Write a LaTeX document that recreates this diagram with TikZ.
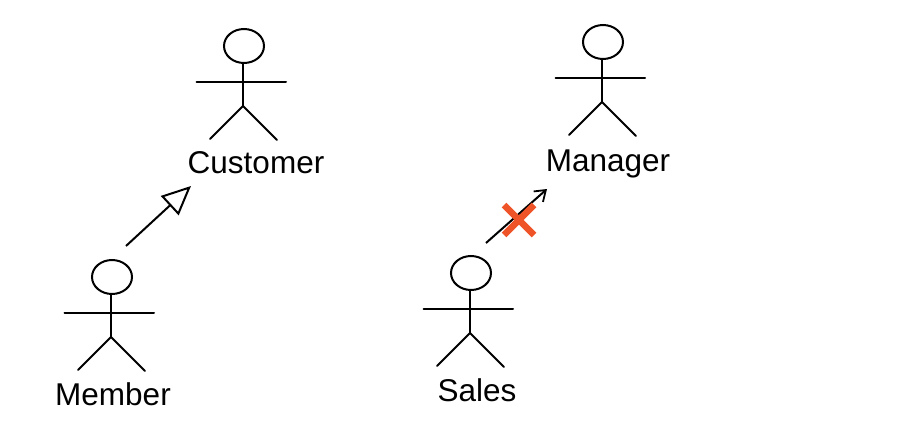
\documentclass[tikz,border=0pt]{standalone}
\usepackage{fontspec}
\setmainfont{Liberation Sans}
\usepackage{tikz}
\usetikzlibrary{arrows.meta,positioning}
\definecolor{crossred}{HTML}{EE5428}
\begin{document}
\begin{tikzpicture}[
  x=1pt,
  y=-1pt,
  every node/.style={font=\fontsize{31.5}{36}\selectfont, inner sep=0pt},
  limb/.style={line width=2pt, line cap=round},
  actor/.pic={
    \draw[limb] (0,0) ellipse (20 and 17);
    \draw[limb] (-1,17) -- (-1,60);
    \draw[limb] (-47.5,36) -- (42,36);
    \draw[limb] (-34,93) -- (-1,60) -- (33,94);
  },
  inherit/.style={-{Triangle[open, length=29pt, width=26pt, line width=2pt]}, line width=2pt},
  assoc/.style={-{Straight Barb[length=10pt, width=14pt, line width=1.8pt]}, line width=2pt},
  cross/.style={line width=6.5pt, color=crossred}
]
\useasboundingbox (0,0) rectangle (902,444);
\pic at (244,46) {actor};
\pic at (112,277) {actor};
\pic at (603,42) {actor};
\pic at (471,273) {actor};

\node (customer) at (256,163) {Customer};
\node (member) at (113,394) {Member};
\node (manager) at (608,164) {Manager};
\node (sales) at (477,390) {Sales};

\coordinate (genstart) at (126,246);
\coordinate (genend) at (191,186);
\coordinate (assocstart) at (486,243);
\coordinate (assocend) at (547,189);
\draw[inherit] (genstart) -- (genend);
\draw[assoc] (assocstart) -- (assocend);

\coordinate (crossa) at (504,205);
\coordinate (crossb) at (534,235);
\coordinate (crossc) at (534,205);
\coordinate (crossd) at (504,235);
\draw[cross] (crossa) -- (crossb);
\draw[cross] (crossc) -- (crossd);
\end{tikzpicture}
\end{document}
